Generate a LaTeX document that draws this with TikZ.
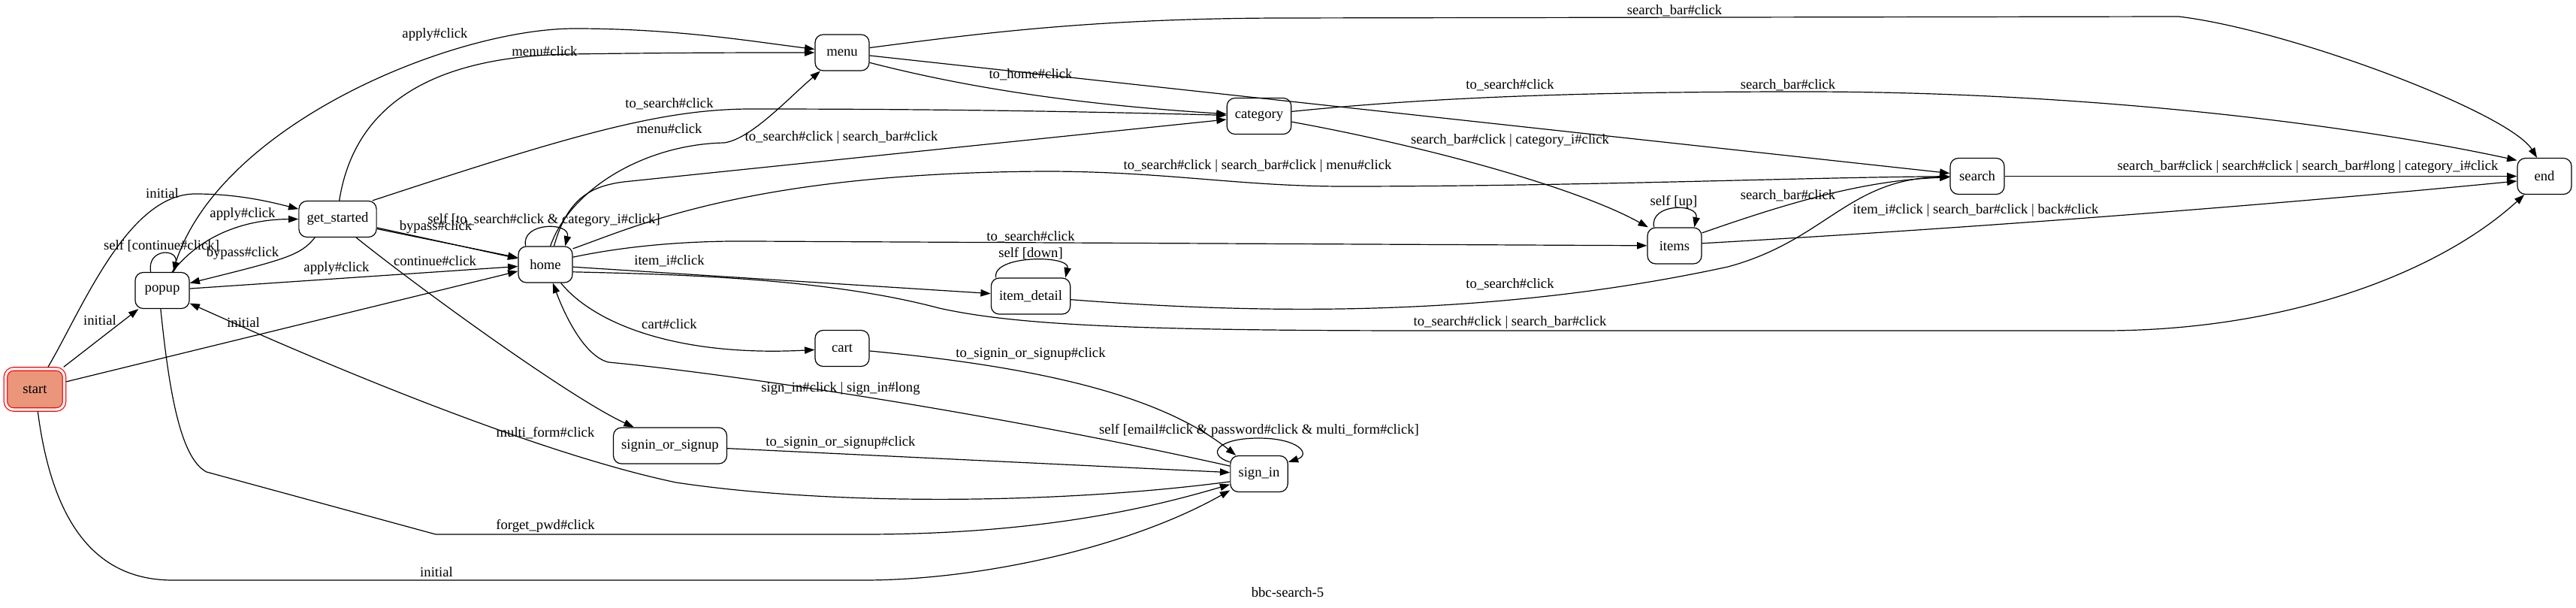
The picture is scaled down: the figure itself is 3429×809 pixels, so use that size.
\documentclass[tikz,border=0pt]{standalone}
\usepackage{fontspec}
\setmainfont{Liberation Serif}
\usetikzlibrary{arrows.meta}
\definecolor{ink}{HTML}{000000}
\definecolor{start-fill}{HTML}{E9967A}
\definecolor{start-red}{HTML}{FF0000}

\begin{document}
\begin{tikzpicture}[x=0.75pt, y=-0.75pt,
      every node/.style={font=\fontsize{14}{16}\selectfont},
      state/.style={draw=ink, line width=0.9pt, rounded corners=8pt,
                    minimum width=54pt, minimum height=36pt, inner xsep=8pt, inner ysep=4pt},
      initstate/.style={state, draw=start-red, fill=start-fill, double=white, double distance=2.4pt,
                        minimum width=58.5pt, minimum height=40.5pt, outer sep=2pt},
      trans/.style={draw=ink, line width=0.9pt, -{Triangle[length=10pt, width=7pt]}},
      lbl/.style={inner sep=1pt}]

    \useasboundingbox (0,0) rectangle (3429,809);

    % states
    \node[initstate] (START) at (46.5,518) {start};
    \node[state] (POP) at (216,386.5) {popup};
    \node[state] (GS) at (449.5,291.5) {get\_started};
    \node[state] (HOME) at (726,352) {home};
    \node[state] (MENU) at (1121,70) {menu};
    \node[state] (CAT) at (1676,154.5) {category};
    \node[state] (CART) at (1121,463.5) {cart};
    \node[state] (SOS) at (892,593) {signin\_or\_signup};
    \node[state] (IDET) at (1372,394) {item\_detail};
    \node[state] (SIGN) at (1676,630.5) {sign\_in};
    \node[state] (ITEMS) at (2229,327) {items};
    \node[state] (SRCH) at (2632,234.5) {search};
    \node[state] (END) at (3387,234.5) {end};

    % out of start
    \draw[trans] (START) .. controls (110,410) and (170,258) .. (260,258)
                 .. controls (310,258) and (350,266) .. (GS);
    \draw[trans] (START) -- (POP);
    \draw[trans] (START) -- (HOME);
    \draw[trans] (START) .. controls (70,700) and (130,772) .. (230,772) -- (1150,772)
                 .. controls (1300,772) and (1500,730) .. (SIGN);

    % out of popup
    \draw[trans] (POP.122) .. controls (195,330) and (238,330) .. (POP.58);
    \draw[trans] (POP.62) .. controls (270,310) and (330,292) .. (GS.west);
    \draw[trans] (POP.60) .. controls (280,170) and (600,38) .. (765,38)
                 .. controls (900,38) and (1000,55) .. (MENU);
    \draw[trans] (POP) -- (HOME);
    \draw[trans] (POP.265) .. controls (225,520) and (240,610) .. (275,628) -- (580,711) -- (1150,711)
                 .. controls (1400,711) and (1550,670) .. (SIGN.200);

    % out of get_started
    \draw[trans] (GS) -- (HOME);
    \draw[trans] (GS.-14) -- (HOME.166);
    \draw[trans] (GS.219) .. controls (400,340) and (380,345) .. (POP.15);
    \draw[trans] (GS.85) .. controls (470,150) and (560,75) .. (760,72)
                 .. controls (900,70) and (1000,70) .. (MENU);
    \draw[trans] (GS.28) .. controls (760,180) and (880,145) .. (1000,145)
                 .. controls (1300,145) and (1500,150) .. (CAT);
    \draw[trans] (GS.-45) .. controls (560,385) and (760,530) .. (SOS.153);

    % out of home
    \draw[trans] (HOME.137) .. controls (693,295) and (760,295) .. (HOME.43);
    \draw[trans] (HOME.75) .. controls (760,250) and (860,192) .. (964,190)
                 .. controls (1000,185) and (1050,130) .. (MENU);
    \draw[trans] (HOME.65) .. controls (755,265) and (785,248) .. (830,242) -- (CAT);
    \draw[trans] (HOME.30) .. controls (850,300) and (1000,230) .. (1391,228)
                 .. controls (1550,228) and (1650,248) .. (1789,248)
                 .. controls (2100,248) and (2400,236) .. (SRCH);
    \draw[trans] (HOME.15) .. controls (820,330) and (900,320) .. (1000,321) -- (ITEMS);
    \draw[trans] (HOME.-5) -- (IDET);
    \draw[trans] (HOME.-15) .. controls (900,365) and (1100,370) .. (1250,410)
                 .. controls (1350,432) and (1500,440) .. (1900,440) -- (2800,440)
                 .. controls (3050,440) and (3250,360) .. (END);
    \draw[trans] (HOME.-50) .. controls (790,430) and (900,475) .. (CART);

    % out of menu and category
    \draw[trans] (MENU.10) .. controls (1300,45) and (1450,25) .. (1700,24) -- (2900,22)
                 .. controls (3050,40) and (3340,150) .. (END.112);
    \draw[trans] (MENU.-20) .. controls (1300,120) and (1450,140) .. (CAT);
    \draw[trans] (MENU) -- (SRCH);
    \draw[trans] (CAT.8) .. controls (1900,130) and (2100,122) .. (2400,122)
                 .. controls (2800,122) and (3150,170) .. (END.150);
    \draw[trans] (CAT.-10) .. controls (1900,195) and (2100,250) .. (ITEMS.145);

    % out of items, item_detail, search
    \draw[trans] (ITEMS.138) .. controls (2195,270) and (2262,270) .. (ITEMS.43);
    \draw[trans] (ITEMS.25) .. controls (2380,270) and (2480,240) .. (SRCH);
    \draw[trans] (ITEMS.5) .. controls (2600,305) and (3000,275) .. (END.190);
    \draw[trans] (IDET.152) .. controls (1320,339) and (1425,339) .. (IDET.28);
    \draw[trans] (IDET.-5) .. controls (1700,420) and (2000,420) .. (2300,355)
                 .. controls (2430,320) and (2460,238) .. (SRCH);
    \draw[trans] (SRCH) -- (END);

    % out of cart, signin_or_signup, sign_in
    \draw[trans] (CART) .. controls (1400,490) and (1550,530) .. (SIGN);
    \draw[trans] (SOS) -- (SIGN);
    \draw[trans] (SIGN.158) .. controls (1605,605) and (1620,583) .. (1675,583)
                 .. controls (1730,583) and (1745,605) .. (SIGN.22);
    \draw[trans] (SIGN.165) .. controls (1300,545) and (950,495) .. (810,482)
                 .. controls (778,474) and (752,420) .. (HOME.-68);
    \draw[trans] (SIGN.195) .. controls (1400,672) and (1100,672) .. (900,642)
                 .. controls (700,600) and (400,470) .. (POP.-25);

    % transition labels
    \node[lbl] (tInitGS) at (216,257) {initial};
    \node[lbl] (tInitPop) at (133,426) {initial};
    \node[lbl] (tInitHome) at (324,429) {initial};
    \node[lbl] (tInitSign) at (581,761) {initial};
    \node[lbl] (tSelfPop) at (215,327) {self [continue\#click]};
    \node[lbl] (tApplyGS) at (323,285) {apply\#click};
    \node[lbl] (tBypassPop) at (323,337) {bypass\#click};
    \node[lbl] (tApplyHome) at (448,357) {apply\#click};
    \node[lbl] (tBypassHome) at (580,302) {bypass\#click};
    \node[lbl] (tContHome) at (579,347) {continue\#click};
    \node[lbl] (tSelfHome) at (724,293) {self [to\_search\#click \& category\_i\#click]};
    \node[lbl] (tApplyMenu) at (579,46) {apply\#click};
    \node[lbl] (tMenuGS) at (725,68) {menu\#click};
    \node[lbl] (tSearchGS) at (891,138) {to\_search\#click};
    \node[lbl] (tMenuHome) at (891,171) {menu\#click};
    \node[lbl] (tCatHome) at (1120,183) {to\_search\#click | search\_bar\#click};
    \node[lbl] (tSrchHome) at (1674,221) {to\_search\#click | search\_bar\#click | menu\#click};
    \node[lbl] (tItemsHome) at (1372,315) {to\_search\#click};
    \node[lbl] (tDetHome) at (891,347) {item\_i\#click};
    \node[lbl] (tEndHome) at (2010,429) {to\_search\#click | search\_bar\#click};
    \node[lbl] (tCartHome) at (891,431) {cart\#click};
    \node[lbl] (tSignHome) at (1119,517) {sign\_in\#click | sign\_in\#long};
    \node[lbl] (tSignCart) at (1372,471) {to\_signin\_or\_signup\#click};
    \node[lbl] (tSignSos) at (1119,589) {to\_signin\_or\_signup\#click};
    \node[lbl] (tSelfSign) at (1676,573) {self [email\#click \& password\#click \& multi\_form\#click]};
    \node[lbl] (tPopSign) at (726,576) {multi\_form\#click};
    \node[lbl] (tSignPop) at (726,700) {forget\_pwd\#click};
    \node[lbl] (tEndMenu) at (2229,14) {search\_bar\#click};
    \node[lbl] (tCatMenu) at (1372,99) {to\_home\#click};
    \node[lbl] (tSrchMenu) at (2010,113) {to\_search\#click};
    \node[lbl] (tEndCat) at (2380,113) {search\_bar\#click};
    \node[lbl] (tItemsCat) at (2010,187) {search\_bar\#click | category\_i\#click};
    \node[lbl] (tSelfItems) at (2228,269) {self [up]};
    \node[lbl] (tSelfDet) at (1372,337) {self [down]};
    \node[lbl] (tSrchItems) at (2380,260) {search\_bar\#click};
    \node[lbl] (tEndItems) at (2630,280) {item\_i\#click | search\_bar\#click | back\#click};
    \node[lbl] (tSrchDet) at (2010,378) {to\_search\#click};
    \node[lbl] (tEndSrch) at (3072,222) {search\_bar\#click | search\#click | search\_bar\#long | category\_i\#click};

    % graph title
    \node (TITLE) at (1714,788) {bbc-search-5};
\end{tikzpicture}
\end{document}
